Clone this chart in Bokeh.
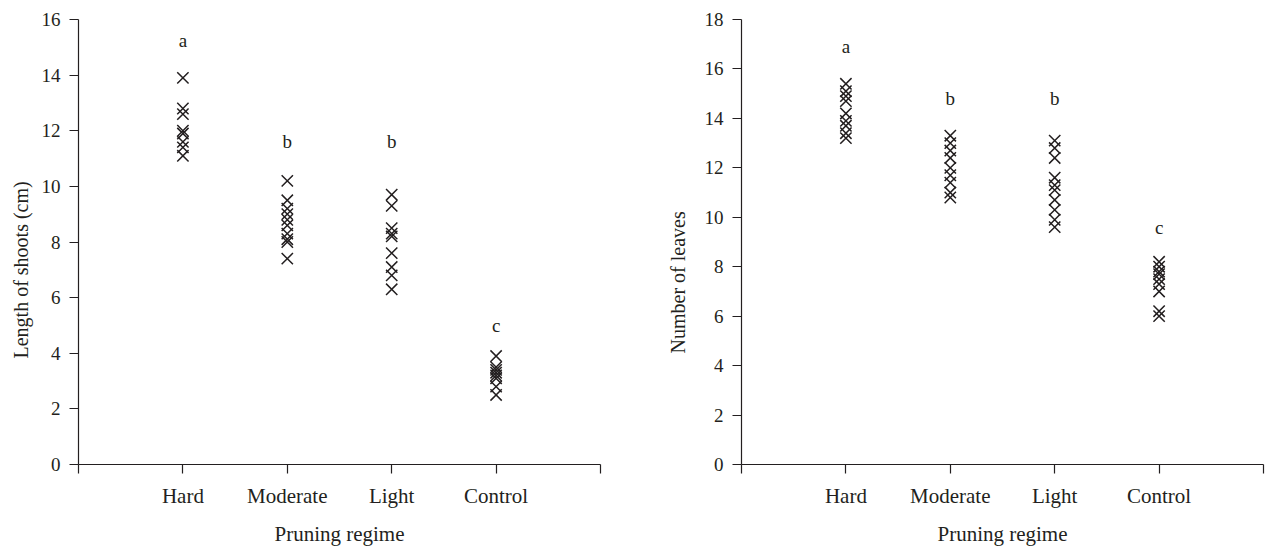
from bokeh.plotting import figure
from bokeh.layouts import row
from bokeh.models import FixedTicker, ColumnDataSource, Title
from bokeh.core.properties import value
from bokeh.embed import file_html
from bokeh.resources import INLINE

categories = ["Hard", "Moderate", "Light", "Control"]

# Left panel: length of shoots (cm)
shoot_hard = [13.9, 12.8, 12.6, 12.0, 11.9, 11.6, 11.4, 11.1]
shoot_moderate = [10.2, 9.5, 9.2, 9.0, 8.8, 8.6, 8.3, 8.1, 8.0, 7.4]
shoot_light = [9.7, 9.3, 8.5, 8.3, 8.2, 7.6, 7.1, 6.8, 6.3]
shoot_control = [3.9, 3.5, 3.4, 3.3, 3.2, 3.1, 2.8, 2.5]
shoot_letters = ["a", "b", "b", "c"]
shoot_letter_y = [15.25, 11.6, 11.6, 5.0]

# Right panel: number of leaves
leaf_hard = [15.4, 15.1, 14.9, 14.7, 14.2, 13.9, 13.7, 13.4, 13.2]
leaf_moderate = [13.3, 13.0, 12.7, 12.4, 12.0, 11.7, 11.4, 11.0, 10.8]
leaf_light = [13.1, 12.8, 12.4, 11.6, 11.3, 11.1, 10.7, 10.3, 9.9, 9.6]
leaf_control = [8.2, 8.0, 7.8, 7.7, 7.5, 7.3, 7.0, 6.2, 6.0]
leaf_letters = ["a", "b", "b", "c"]
leaf_letter_y = [16.9, 14.8, 14.8, 9.6]

FONT = "Liberation Serif"
INK = "#231f20"


def make_panel(groups, letters, letter_y, ymax, ylabel, label_offset, label_standoff,
               left_border, right_border):
    p = figure(frame_width=522, frame_height=445, x_range=(0, 5), y_range=(0, ymax),
               output_backend="svg", toolbar_location=None,
               min_border_left=left_border, min_border_right=right_border,
               min_border_top=19, min_border_bottom=86)
    p.outline_line_color = None
    p.grid.visible = False
    p.background_fill_color = "white"
    p.border_fill_color = "white"

    xs, ys = [], []
    for i, vals in enumerate(groups):
        xs += [i + 1] * len(vals)
        ys += vals
    src = ColumnDataSource(dict(x=xs, y=ys))
    p.scatter("x", "y", source=src, marker="x", size=16, line_color=INK, line_width=1.5)

    lsrc = ColumnDataSource(dict(x=[1, 2, 3, 4], y=letter_y, t=letters))
    p.text("x", "y", text="t", source=lsrc, text_font=value(FONT), text_font_size="19px",
           text_align="center", text_baseline="middle", text_color=INK)

    p.xaxis.ticker = FixedTicker(ticks=[0, 1, 2, 3, 4, 5])
    p.xaxis.major_label_overrides = {0: "", 1: categories[0], 2: categories[1],
                                     3: categories[2], 4: categories[3], 5: ""}
    p.xaxis.axis_label = "Pruning regime"
    p.yaxis.ticker = FixedTicker(ticks=list(range(0, ymax + 1, 2)))

    for ax in (p.xaxis, p.yaxis):
        ax.axis_line_color = INK
        ax.axis_line_width = 1.2
        ax.major_tick_line_color = INK
        ax.major_tick_line_width = 1.2
        ax.major_tick_out = 9
        ax.major_tick_in = 0
        ax.minor_tick_line_color = None
        ax.major_label_text_font = FONT
        ax.major_label_text_color = INK
        ax.axis_label_text_font = FONT
        ax.axis_label_text_font_style = "normal"
        ax.axis_label_text_color = INK
    p.xaxis.major_label_text_font_size = "21px"
    p.xaxis.axis_label_text_font_size = "21px"
    p.yaxis.major_label_text_font_size = "19px"
    p.xaxis.major_label_standoff = 10
    p.xaxis.axis_label_standoff = 11
    p.yaxis.major_label_standoff = 9

    t = Title(text=ylabel, align="left", offset=label_offset, standoff=label_standoff,
              text_font=FONT, text_font_size="20px", text_font_style="normal",
              text_color=INK)
    p.add_layout(t, "left")
    return p


left = make_panel([shoot_hard, shoot_moderate, shoot_light, shoot_control],
                  shoot_letters, shoot_letter_y, 16, "Length of shoots (cm)", 106, 14, 77, 36)
right = make_panel([leaf_hard, leaf_moderate, leaf_light, leaf_control],
                   leaf_letters, leaf_letter_y, 18, "Number of leaves", 111, 26, 105, 9)

layout = row(left, right)
open("out.html", "w").write(file_html(layout, INLINE))
